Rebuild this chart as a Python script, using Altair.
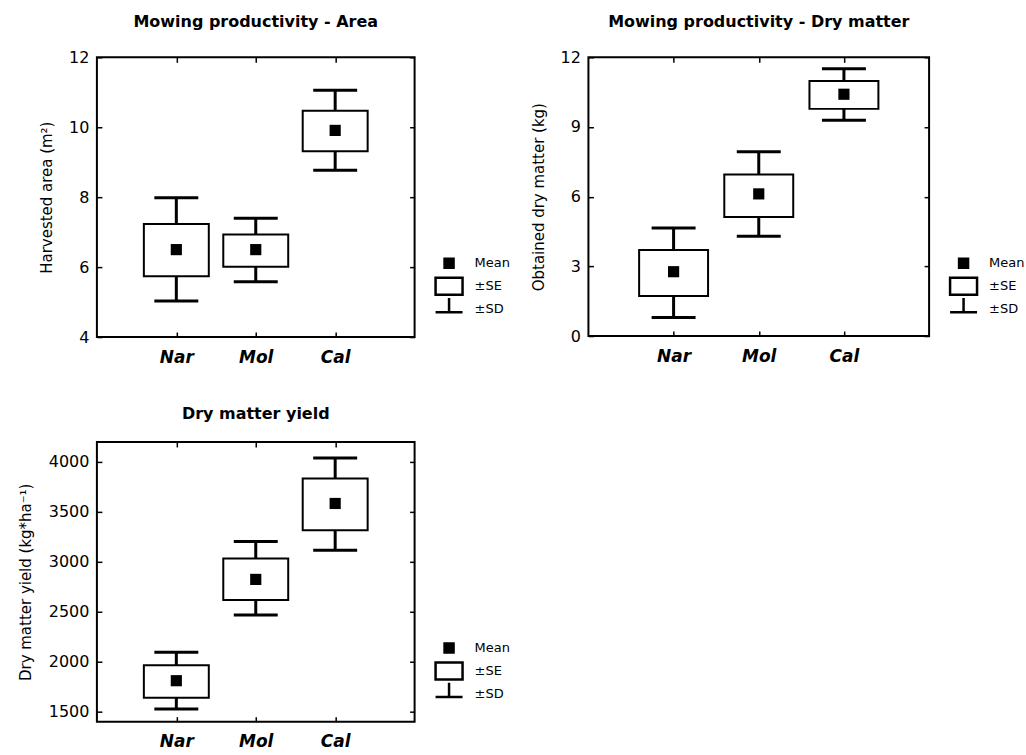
import altair as alt
import pandas as pd

# ---------------- data ----------------
cats = ["Nar", "Mol", "Cal"]

# Panel 1: Harvested area (m2)
area_mean = [6.50, 6.50, 9.91]
area_se_lo = [5.74, 6.01, 9.31]
area_se_hi = [7.23, 6.93, 10.47]
area_sd_lo = [5.03, 5.58, 8.77]
area_sd_hi = [7.98, 7.40, 11.06]

# Panel 2: Obtained dry matter (kg)
dm_mean = [2.77, 6.12, 10.41]
dm_se_lo = [1.72, 5.13, 9.78]
dm_se_hi = [3.70, 6.95, 10.98]
dm_sd_lo = [0.80, 4.30, 9.29]
dm_sd_hi = [4.65, 7.93, 11.51]

# Panel 3: Dry matter yield (kg*ha-1)
yl_mean = [1810, 2824, 3584]
yl_se_lo = [1640, 2617, 3317]
yl_se_hi = [1964, 3034, 3834]
yl_sd_lo = [1527, 2467, 3117]
yl_sd_hi = [2094, 3204, 4040]

legend_items = ["Mean", "±SE", "±SD"]

FONT = "DejaVu Sans"
BOLD_FONT = "DejaVu Sans"

# legend glyph paths (unit = sqrt(symbolSize)/2)
legend_paths = [
    "M-0.45,-0.45H0.45V0.45H-0.45Z",
    "M-1.35,-0.85H1.35V0.85H-1.35Z",
    "M0,-1.3V0.3M-1.35,0.3H1.35",
]


def panel(mean, se_lo, se_hi, sd_lo, sd_hi, title, ytitle, ydomain, yticks,
          box_w, w, h, title_pad):
    df = pd.DataFrame({
        "cat": cats, "mean": mean, "se_lo": se_lo, "se_hi": se_hi,
        "sd_lo": sd_lo, "sd_hi": sd_hi,
    })
    xscale = alt.Scale(type="point", domain=cats, padding=1)
    yscale = alt.Scale(domain=ydomain, nice=False, zero=False)

    x_bottom = alt.Axis(orient="bottom", title=None, labelFont=BOLD_FONT,
                        labelFontSize=17, labelFontWeight="bold",
                        labelFontStyle="italic", labelColor="black",
                        tickColor="black", tickSize=5, tickWidth=1.5,
                        offset=-5, labelPadding=12, domain=False,
                        labelAngle=0, grid=False)
    x_top = alt.Axis(orient="top", title=None, labels=False, tickSize=5,
                     tickWidth=1.5, offset=-5, domain=False,
                     tickColor="black", grid=False)
    y_left = alt.Axis(orient="left", title=ytitle, values=yticks,
                      format="d",
                      labelFont=FONT, labelFontSize=16, labelColor="black",
                      tickColor="black", tickSize=5, tickWidth=1.5,
                      offset=-5, labelPadding=8, domain=False, grid=False,
                      titleFont=FONT, titleFontSize=15,
                      titleFontWeight="normal", titleColor="black",
                      titlePadding=title_pad)
    y_right = alt.Axis(orient="right", title=None, labels=False,
                       values=yticks, tickSize=5, tickWidth=1.5, offset=-5,
                       domain=False, tickColor="black", grid=False)

    base = alt.Chart(df)
    stem = base.mark_rule(color="black", strokeWidth=3).encode(
        x=alt.X("cat:N", scale=xscale, sort=cats, axis=x_bottom),
        y=alt.Y("sd_lo:Q", scale=yscale, axis=y_left),
        y2="sd_hi:Q",
    )
    cap_lo = base.mark_tick(color="black", size=44, thickness=3,
                            opacity=1).encode(
        x=alt.X("cat:N", scale=xscale, sort=cats, axis=x_top),
        y=alt.Y("sd_lo:Q", scale=yscale, axis=y_right),
    )
    cap_hi = base.mark_tick(color="black", size=44, thickness=3,
                            opacity=1).encode(
        x=alt.X("cat:N", scale=xscale, sort=cats, axis=None),
        y=alt.Y("sd_hi:Q", scale=yscale, axis=None),
    )
    box = base.mark_bar(size=box_w, fill="white", stroke="black",
                        strokeWidth=2, opacity=1).encode(
        x=alt.X("cat:N", scale=xscale, sort=cats, axis=None),
        y=alt.Y("se_lo:Q", scale=yscale, axis=None),
        y2="se_hi:Q",
    )
    dot = base.mark_square(size=125, color="black", opacity=1).encode(
        x=alt.X("cat:N", scale=xscale, sort=cats, axis=None),
        y=alt.Y("mean:Q", scale=yscale, axis=None),
    )

    leg_df = pd.DataFrame({"stat": legend_items})
    leg_def = alt.Legend(
        title=None, orient="none", legendX=w + 18, legendY=195,
        symbolSize=400, symbolStrokeColor="black", symbolStrokeWidth=2.5,
        symbolOpacity=1, symbolOffset=5, labelFont=FONT, labelFontSize=13,
        labelColor="black", labelOffset=14, rowPadding=0, padding=0,
        clipHeight=22.5,
    )
    leg = alt.Chart(leg_df).mark_point(opacity=0, strokeWidth=2.5).encode(
        shape=alt.Shape("stat:N", sort=legend_items,
                        scale=alt.Scale(domain=legend_items,
                                        range=legend_paths),
                        legend=leg_def),
        fill=alt.Fill("stat:N", sort=legend_items,
                      scale=alt.Scale(domain=legend_items,
                                      range=["black", "white", "transparent"]),
                      legend=leg_def),
        stroke=alt.Stroke("stat:N", sort=legend_items,
                          scale=alt.Scale(domain=legend_items,
                                          range=["black", "black", "black"]),
                          legend=leg_def),
    )

    return alt.layer(stem, cap_lo, cap_hi, box, dot, leg).resolve_axis(
        x="independent", y="independent"
    ).properties(
        width=w, height=h,
        title=alt.Title(title, font=BOLD_FONT, fontSize=16,
                        fontWeight="bold", color="black", anchor="middle",
                        offset=19),
    )


p1 = panel(area_mean, area_se_lo, area_se_hi, area_sd_lo, area_sd_hi,
           "Mowing productivity - Area", "Harvested area (m²)",
           [4, 12], [4, 6, 8, 10, 12], 65, 318, 280, 14)
p2 = panel(dm_mean, dm_se_lo, dm_se_hi, dm_sd_lo, dm_sd_hi,
           "Mowing productivity - Dry matter", "Obtained dry matter (kg)",
           [0, 12], [0, 3, 6, 9, 12], 69, 341, 279, 14)
p3 = panel(yl_mean, yl_se_lo, yl_se_hi, yl_sd_lo, yl_sd_hi,
           "Dry matter yield", "Dry matter yield (kg*ha⁻¹)",
           [1400, 4200], [1500, 2000, 2500, 3000, 3500, 4000], 65, 318, 280,
           15)

chart = alt.concat(
    p1, p2, p3, columns=2, spacing={"row": 105, "column": 174},
    bounds="flush",
).resolve_legend(shape="independent", fill="independent",
                 stroke="independent").resolve_scale(
    shape="independent", fill="independent", stroke="independent").properties(
    padding={"left": 17, "top": 13, "right": 0, "bottom": 0},
    background="white",
).configure_view(stroke="black", strokeWidth=2)

chart.save("out.html", embed_options={"renderer": "svg", "actions": False})
